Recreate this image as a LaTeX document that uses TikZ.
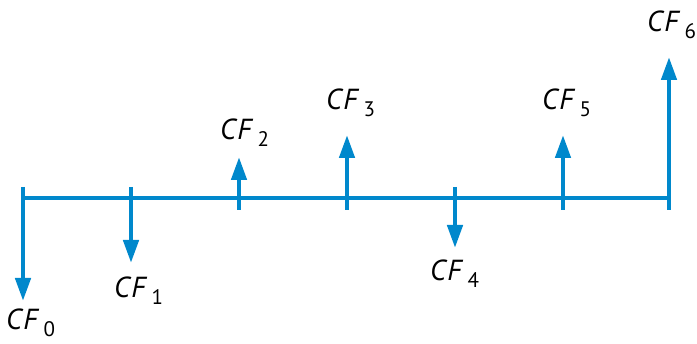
\documentclass[tikz,border=0pt]{standalone}
\usepackage{fontspec}
\setmainfont{PT Sans}
\usetikzlibrary{arrows.meta}
\definecolor{cfblue}{RGB}{0,136,204}
\newcommand{\cflab}[1]{{\fontsize{29}{29}\selectfont\itshape C\kern1.5pt F}\kern6pt\raisebox{-7pt}{\fontsize{21}{21}\selectfont #1}}
\tikzset{
  axisline/.style={draw=cfblue, line width=3.2pt},
  flow/.style={draw=cfblue, line width=4.5pt, -{Triangle[length=23pt,width=15pt]}},
  cflabel/.style={anchor=base west, inner sep=0pt, text=black},
}
\begin{document}
\begin{tikzpicture}[x=1pt,y=-1pt]
\useasboundingbox (0,0) rectangle (697,344);
% axis ends
\coordinate (t0) at (23,198);
\coordinate (t6) at (669,198);
\draw[axisline] (t0) -- (t6);
% tick tops/bottoms
\foreach \i/\x in {0/23,1/131,2/239,3/347,4/455,5/563,6/669}{
  \coordinate (up\i) at (\x,187);
  \coordinate (dn\i) at (\x,210);
}
% outflows (down)
\coordinate (tip0) at (23,301);
\coordinate (tip1) at (131,263);
\coordinate (tip4) at (455,248);
\draw[flow] (up0) -- (tip0);
\draw[flow] (up1) -- (tip1);
\draw[flow] (up4) -- (tip4);
% inflows (up)
\coordinate (tip2) at (239,157);
\coordinate (tip3) at (347,135);
\coordinate (tip5) at (563,135);
\coordinate (tip6) at (669,57);
\draw[flow] (dn2) -- (tip2);
\draw[flow] (dn3) -- (tip3);
\draw[flow] (dn5) -- (tip5);
\draw[flow] (dn6) -- (tip6);
% labels
\node[cflabel] (l0) at (6,330) {\cflab{0}};
\node[cflabel] (l1) at (114,298) {\cflab{1}};
\node[cflabel] (l2) at (220,140) {\cflab{2}};
\node[cflabel] (l3) at (326,110) {\cflab{3}};
\node[cflabel] (l4) at (430,281) {\cflab{4}};
\node[cflabel] (l5) at (542,110) {\cflab{5}};
\node[cflabel] (l6) at (647,32) {\cflab{6}};
\end{tikzpicture}
\end{document}
